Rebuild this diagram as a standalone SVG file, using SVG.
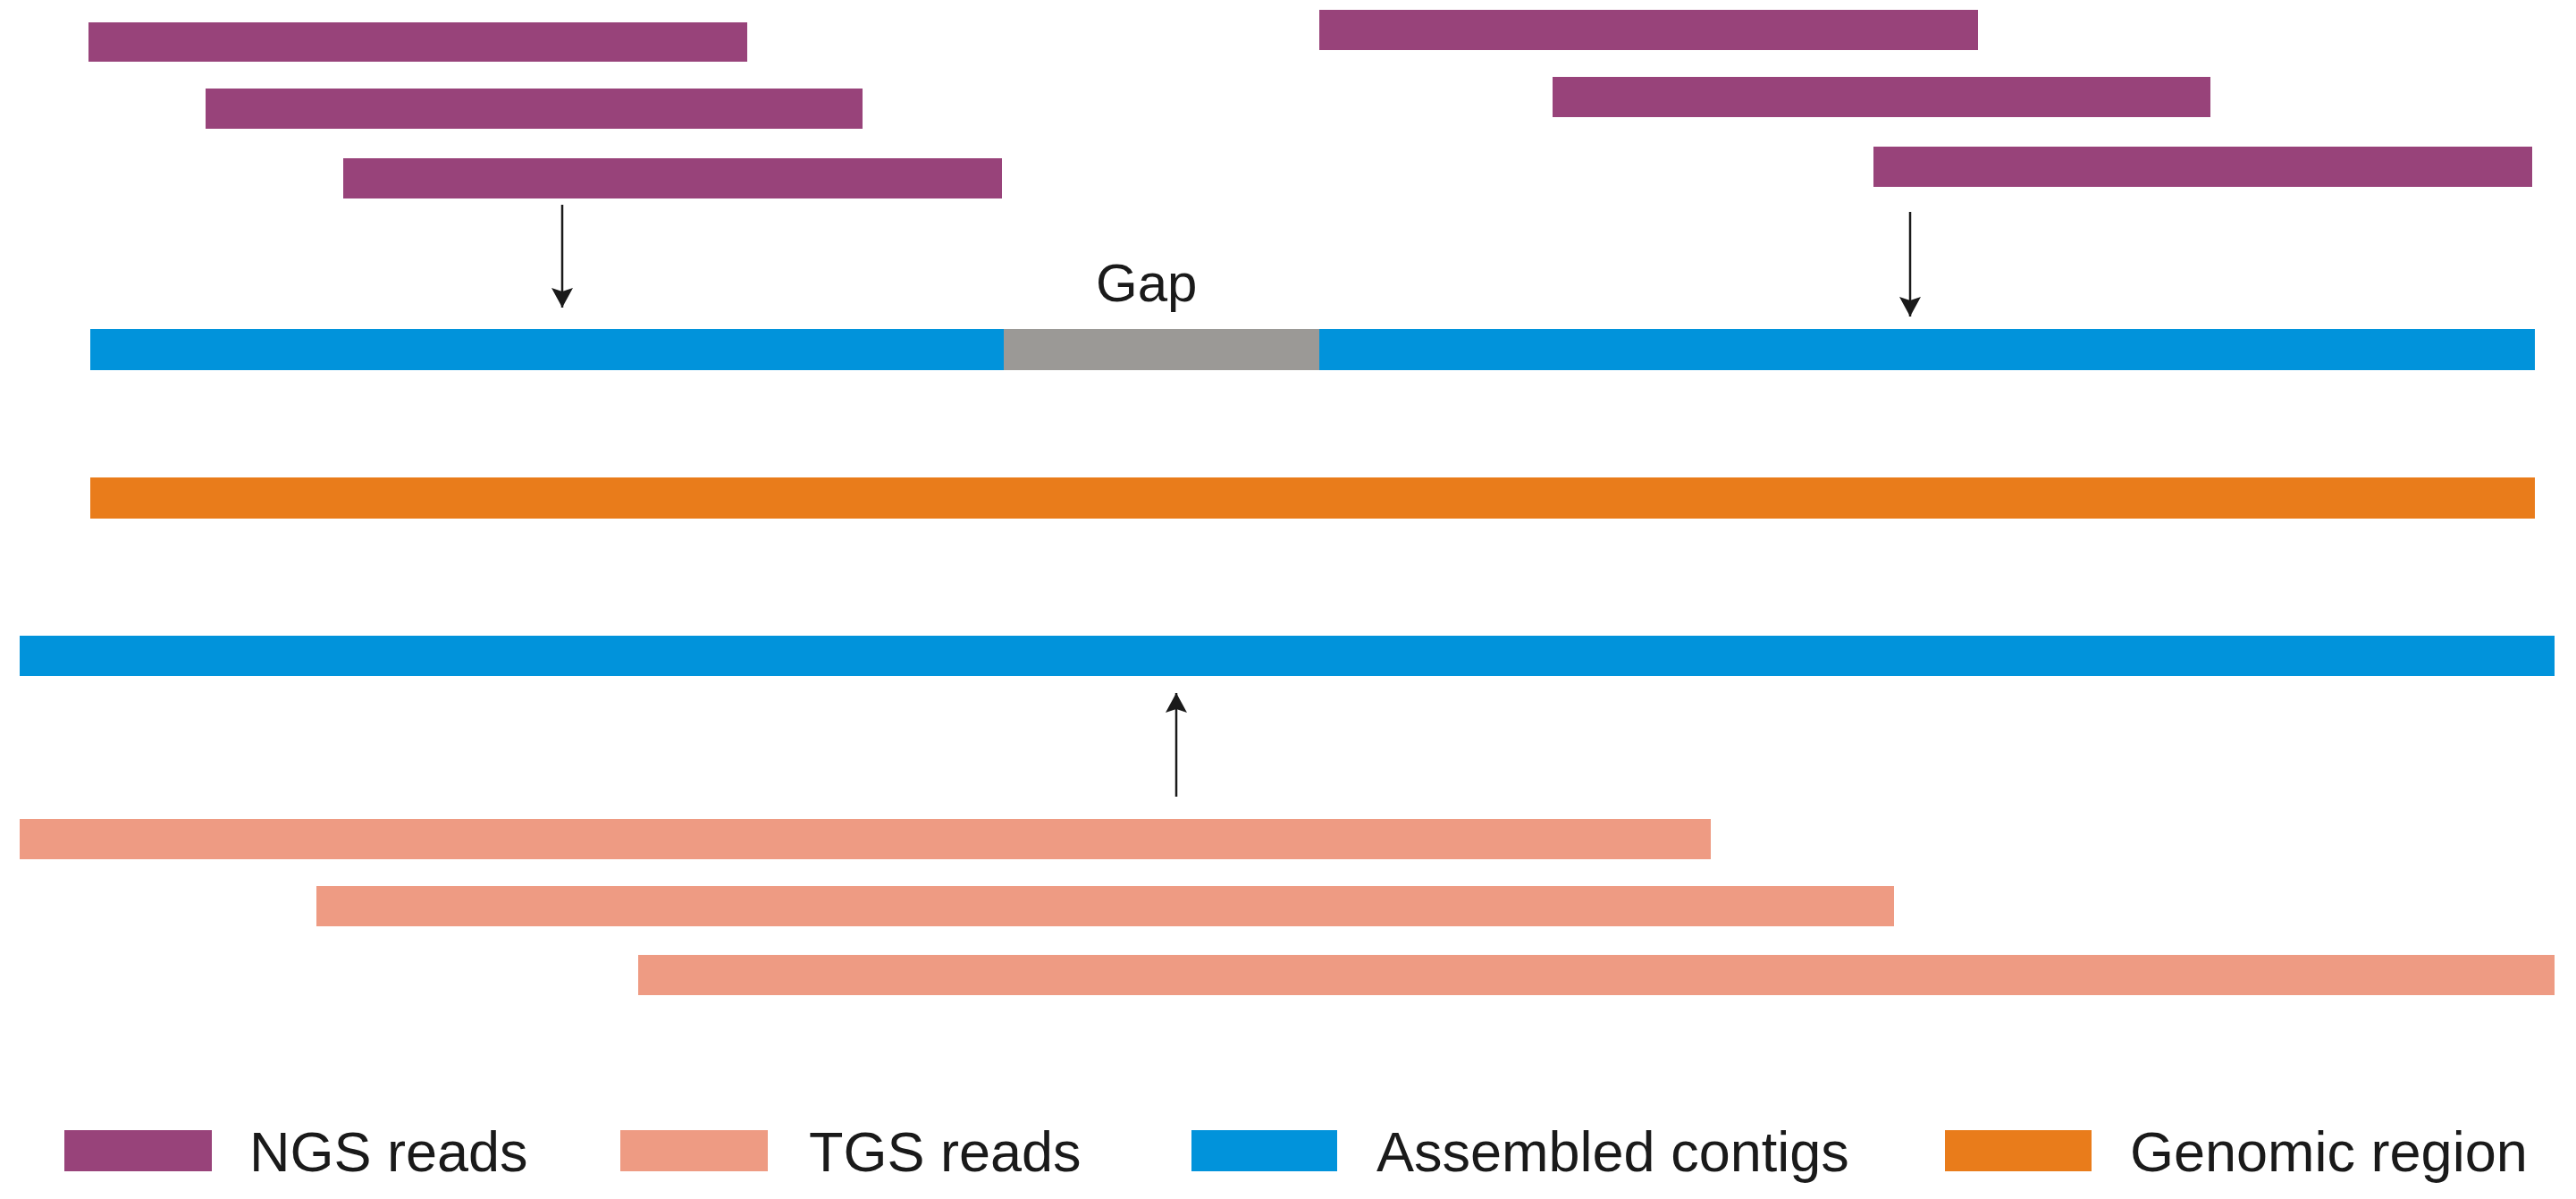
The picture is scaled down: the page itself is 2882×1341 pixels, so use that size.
<svg xmlns="http://www.w3.org/2000/svg" width="2882" height="1341" viewBox="0 0 2882 1341">
<style>
.ngs{fill:#98437A}
.tgs{fill:#EE9B83}
.ctg{fill:#0193DB}
.gap{fill:#9B9996}
.gen{fill:#E97C1B}
.lbl{font-family:"Liberation Sans",Arial,sans-serif;fill:#1a1a1a}
.arr{stroke:#1a1a1a;stroke-width:2.5;fill:none}
</style>
<defs>
<marker id="ah" viewBox="0 0 22 24" markerWidth="22" markerHeight="24" refX="22" refY="12" orient="auto" markerUnits="userSpaceOnUse">
<path d="M0,0 L22,12 L0,24 L4,12 z" fill="#1a1a1a"/>
</marker>
</defs>
<rect width="2882" height="1341" fill="#ffffff"/>
<g id="ngs-reads-left">
<rect id="ngs1" class="ngs" x="99" y="25" width="737" height="44"/>
<rect id="ngs2" class="ngs" x="230" y="99" width="735" height="45"/>
<rect id="ngs3" class="ngs" x="384" y="177" width="737" height="45"/>
</g>
<g id="ngs-reads-right">
<rect id="ngs4" class="ngs" x="1476" y="11" width="737" height="45"/>
<rect id="ngs5" class="ngs" x="1737" y="86" width="736" height="45"/>
<rect id="ngs6" class="ngs" x="2096" y="164" width="737" height="45"/>
</g>
<g id="gap-label">
<text class="lbl" x="1226" y="337" font-size="60">Gap</text>
</g>
<g id="contigs-with-gap">
<rect class="ctg" x="101" y="368" width="1022" height="46"/>
<rect class="gap" x="1123" y="368" width="353" height="46"/>
<rect class="ctg" x="1476" y="368" width="1360" height="46"/>
</g>
<g id="genomic-region">
<rect class="gen" x="101" y="534" width="2735" height="46"/>
</g>
<g id="assembled-contig">
<rect class="ctg" x="22" y="711" width="2836" height="45"/>
</g>
<g id="tgs-reads">
<rect id="tgs1" class="tgs" x="22" y="916" width="1892" height="45"/>
<rect id="tgs2" class="tgs" x="354" y="991" width="1765" height="45"/>
<rect id="tgs3" class="tgs" x="714" y="1068" width="2144" height="45"/>
</g>
<g id="connectors">
<line class="arr" x1="629" y1="229" x2="629" y2="344" marker-end="url(#ah)"/>
<line class="arr" x1="2137" y1="237" x2="2137" y2="354" marker-end="url(#ah)"/>
<line class="arr" x1="1316" y1="891" x2="1316" y2="775" marker-end="url(#ah)"/>
</g>
<g id="legend">
<g id="legend-ngs">
<rect class="ngs" x="72" y="1264" width="165" height="46"/>
<text class="lbl" x="279" y="1310" font-size="63">NGS reads</text>
</g>
<g id="legend-tgs">
<rect class="tgs" x="694" y="1264" width="165" height="46"/>
<text class="lbl" x="905" y="1310" font-size="63">TGS reads</text>
</g>
<g id="legend-contigs">
<rect class="ctg" x="1333" y="1264" width="163" height="46"/>
<text class="lbl" x="1540" y="1310" font-size="63">Assembled contigs</text>
</g>
<g id="legend-genomic">
<rect class="gen" x="2176" y="1264" width="164" height="46"/>
<text class="lbl" x="2383" y="1310" font-size="63">Genomic region</text>
</g>
</g>
</svg>
